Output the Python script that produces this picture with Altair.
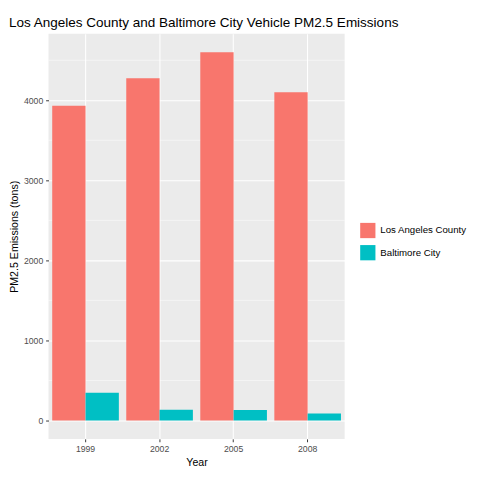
import altair as alt
import pandas as pd

years = ["1999", "2002", "2005", "2008"]
la = [3931, 4274, 4601, 4101]
balt = [347, 134, 130, 88]
series = ["Los Angeles County", "Baltimore City"]

rows = []
for y, a, b in zip(years, la, balt):
    rows.append({"Year": y, "City": series[0], "Emissions": a})
    rows.append({"Year": y, "City": series[1], "Emissions": b})
df = pd.DataFrame(rows)
minor = pd.DataFrame({"v": [500, 1500, 2500, 3500, 4500]})

ydom = [-230, 4831]

bars = alt.Chart(df).mark_bar().encode(
    x=alt.X("Year:N", title="Year",
            scale=alt.Scale(paddingInner=0.1, paddingOuter=0.05),
            axis=alt.Axis(labelAngle=0, grid=True, bandPosition=0.5)),
    xOffset=alt.XOffset("City:N", sort=series),
    y=alt.Y("Emissions:Q", title="PM2.5 Emissions (tons)",
            scale=alt.Scale(domain=ydom, nice=False, zero=False),
            axis=alt.Axis(values=[0, 1000, 2000, 3000, 4000], format="d")),
    color=alt.Color("City:N", sort=series,
                    scale=alt.Scale(domain=series, range=["#F8766D", "#00BFC4"]),
                    legend=alt.Legend(title=None, orient="none", legendX=322, legendY=195,
                                      symbolType="square", symbolSize=250,
                                      labelFontSize=10, labelColor="black",
                                      rowPadding=6)),
)

grid_minor = alt.Chart(minor).mark_rule(color="white", strokeWidth=0.5).encode(
    y=alt.Y("v:Q", scale=alt.Scale(domain=ydom, nice=False, zero=False))
)

chart = alt.layer(grid_minor, bars).properties(
    width=307, height=420,
    padding={"left": 0, "top": 0, "right": 5, "bottom": 5},
    title=alt.Title("Los Angeles County and Baltimore City Vehicle PM2.5 Emissions",
                    anchor="start", fontSize=14, fontWeight="normal",
                    font="Liberation Sans", color="black", offset=4),
).configure_view(fill="#EBEBEB", strokeWidth=0).configure_axis(
    gridColor="white", gridWidth=1.1, domain=False, tickColor="#333333",
    tickSize=3, labelColor="#4D4D4D", labelFontSize=9, labelFont="Liberation Sans",
    titleFont="Liberation Sans", titleFontSize=11, titleFontWeight="normal",
    titleColor="black", labelPadding=3
).configure_legend(labelFont="Liberation Sans")

chart.save("out.html", embed_options={"renderer": "svg", "actions": False})
